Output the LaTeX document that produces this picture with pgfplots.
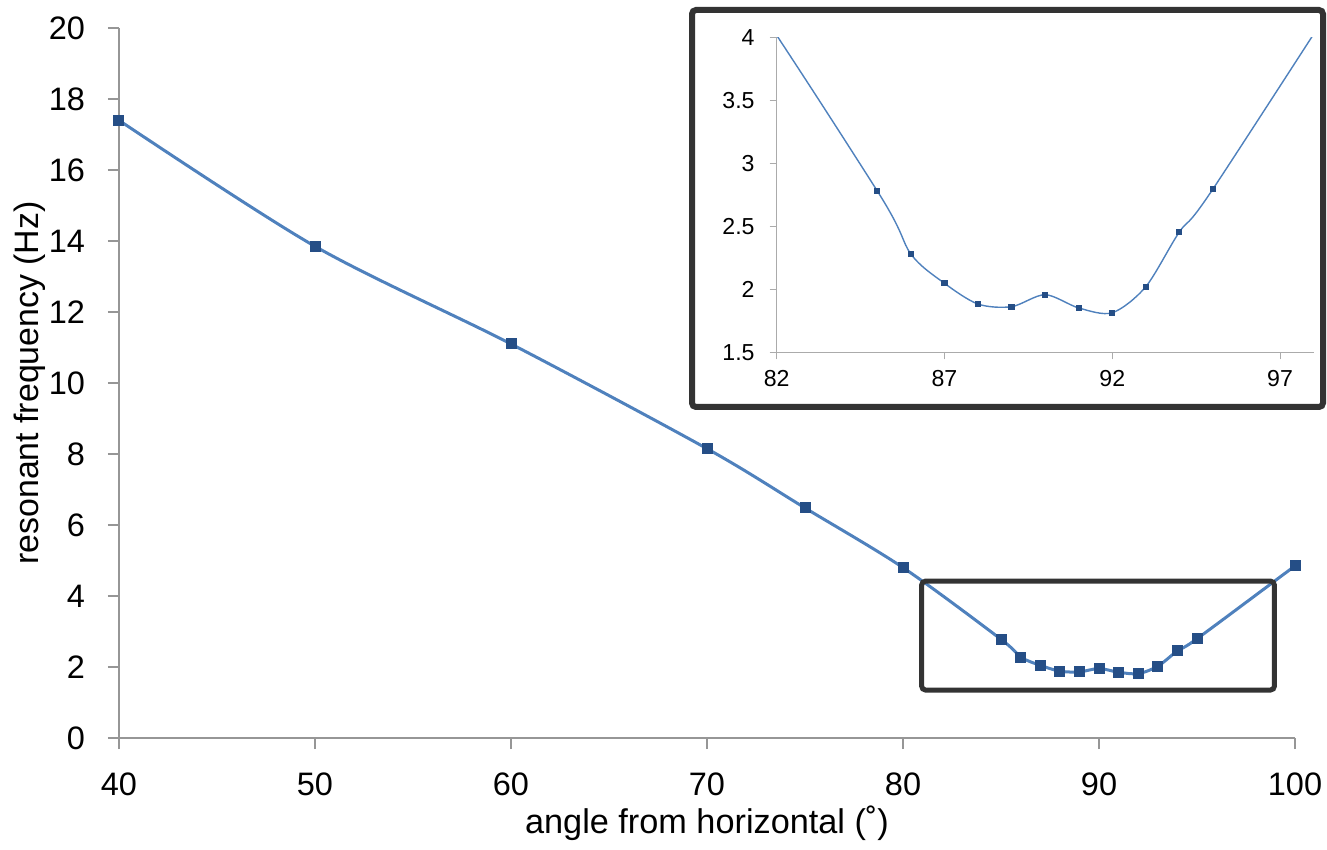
\documentclass[border=0pt]{standalone}
\usepackage{fontspec}
\setmainfont{Liberation Sans}
\usepackage{pgfplots}
\pgfplotsset{compat=1.18}
\definecolor{linecol}{HTML}{4F81BD}
\definecolor{markcol}{HTML}{254E86}
\definecolor{axisgray}{HTML}{969696}
\definecolor{framecol}{HTML}{333333}
\pgfplotstableread{
x y
40 17.4
50 13.85
60 11.1
70 8.15
75 6.48
80 4.8
85 2.78
86 2.28
87 2.048
88 1.883
89 1.862
90 1.957
91 1.852
92 1.814
93 2.021
94 2.455
95 2.796
100 4.85
}\maindata
\pgfplotstableread{
x y
85 2.78
86 2.28
87 2.048
88 1.883
89 1.862
90 1.957
91 1.852
92 1.814
93 2.021
94 2.455
95 2.796
}\insetdata
\begin{document}
\begin{tikzpicture}
\begin{axis}[
  name=main, at={(0,0)}, anchor=south west,
  scale only axis, width=588bp, height=355bp,
  xmin=40, xmax=100, ymin=0, ymax=20,
  xtick={40,50,...,100}, ytick={0,2,...,20},
  axis x line*=bottom, axis y line*=left,
  axis line style={draw=axisgray, line width=0.75bp, -},
  tick align=outside, major tick length=5.5bp,
  tick style={draw=axisgray, line width=0.75bp},
  ticklabel style={font=\fontsize{16.3}{19}\selectfont},
  /pgf/number format/assume math mode=true,
  xticklabel style={yshift=-8.5bp},
  yticklabel style={xshift=-8bp},
  xlabel={angle from horizontal (˚)},
  ylabel={resonant frequency (Hz)},
  xlabel style={font=\fontsize{17.2}{20}\selectfont, yshift=2bp},
  ylabel style={font=\fontsize{17}{20}\selectfont, at={(ticklabel cs:0.5)}, yshift=-5bp},
  clip=false,
]
\addplot[color=linecol, line width=1.5bp, smooth, tension=0.5,
  mark=square*, mark size=2.5bp, mark options={fill=markcol, draw=markcol, line width=0bp}]
  table[x=x,y=y] {\maindata};
\draw[framecol, line width=2.5bp, rounded corners=2bp]
  (axis cs:80.95,1.35) rectangle (axis cs:98.95,4.42);
\end{axis}
\fill[white] (286.5bp,165.5bp) rectangle (602bp,364bp);
\begin{axis}[
  name=inset, at={(328.8bp,192.85bp)}, anchor=south west,
  scale only axis, width=268.5bp, height=157.5bp,
  xmin=82, xmax=98, ymin=1.5, ymax=4,
  xtick={82,87,92,97}, ytick={1.5,2,...,4},
  axis x line*=bottom, axis y line*=left,
  axis line style={draw=axisgray!80, line width=0.5bp, -},
  tick align=outside, major tick length=3.5bp,
  tick style={draw=axisgray!80, line width=0.5bp},
  ticklabel style={font=\fontsize{11.6}{14}\selectfont},
  /pgf/number format/assume math mode=true,
  yticklabel style={/pgf/number format/fixed, /pgf/number format/precision=1, xshift=-4bp},
  xticklabel style={yshift=-2bp},
]
\addplot[color=linecol, line width=0.7bp, smooth, tension=0.5, no marks]
  table[x=x,y=y] {\maindata};
\addplot[only marks, mark=square*, mark size=1.3bp, mark options={fill=markcol, draw=markcol, line width=0bp}]
  table[x=x,y=y] {\insetdata};
\end{axis}
\draw[framecol, line width=3bp, rounded corners=2bp] (286.5bp,165.5bp) rectangle (602bp,364bp);
\pgfresetboundingbox
\path[use as bounding box] (-59.5bp,-56bp) rectangle (604bp,369bp);
\end{tikzpicture}
\end{document}
